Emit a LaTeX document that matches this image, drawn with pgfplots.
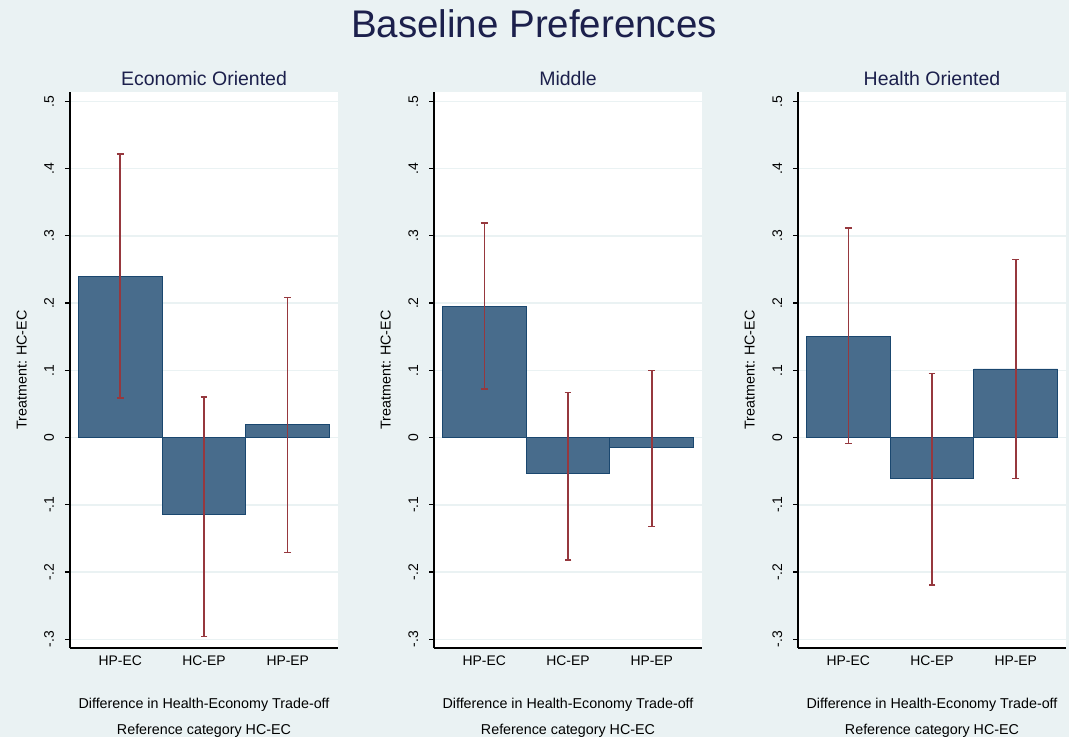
\documentclass[border=0pt]{standalone}
\usepackage{fontspec}
\setmainfont{Liberation Sans}
\usepackage{pgfplots}
\usepackage{pgfplotstable}
\pgfplotsset{compat=1.18}

\definecolor{bgcol}{RGB}{234,242,243}
\definecolor{barfill}{RGB}{72,108,140}
\definecolor{barline}{RGB}{26,71,111}
\definecolor{cicol}{RGB}{150,56,62}
\definecolor{headcol}{RGB}{28,32,76}

% estimate, lower and upper CI bound
\pgfplotstableread{
x y lo hi
1 0.240 0.059 0.422
2 -0.115 -0.296 0.060
3 0.020 -0.171 0.208
}\econtab
\pgfplotstableread{
x y lo hi
1 0.195 0.072 0.319
2 -0.054 -0.182 0.067
3 -0.014 -0.132 0.100
}\middtab
\pgfplotstableread{
x y lo hi
1 0.151 -0.009 0.312
2 -0.060 -0.219 0.095
3 0.102 -0.061 0.265
}\healthtab

\pgfplotsset{
  panel/.style={
    at={(#1pt,89pt)}, anchor=south west,
    scale only axis, width=268pt, height=556pt,
    xmin=0.4, xmax=3.6, ymin=-0.313, ymax=0.514,
    axis background/.style={fill=white},
    axis x line*=bottom, axis y line*=left,
    axis line style={line width=1.6pt, -},
    xtick={1,2,3}, xticklabels={HP-EC,HC-EP,HP-EP},
    xtick style={draw=none},
    ytick={-0.3,-0.2,-0.1,0,0.1,0.2,0.3,0.4,0.5},
    yticklabels={-.3,-.2,-.1,0,.1,.2,.3,.4,.5},
    ymajorgrids, grid style={bgcol, line width=1.5pt},
    tick align=outside, major tick length=5pt,
    ytick style={black, line width=1.2pt},
    ticklabel style={font=\fontsize{13.9}{16}\selectfont},
    xticklabel style={anchor=base, yshift=-12pt},
    yticklabel style={xshift=-11pt, rotate=90, anchor=base},
    ylabel={Treatment: HC-EC},
    ylabel style={at={(axis description cs:-0.18,0.5)}, anchor=center,
      font=\fontsize{14.3}{16}\selectfont},
  },
  est/.style={ybar, bar width=1, fill=barfill, draw=barline, line width=0.8pt, mark=none},
  ci/.style={draw=none, mark=none, forget plot,
    error bars/.cd, y dir=both, y explicit,
    error bar style={draw=cicol, line width=1.5pt},
    error mark=-,
    error mark options={rotate=90, draw=cicol, line width=1.5pt, mark size=3.3pt}},
}

\newcommand{\panelplots}[1]{%
  \addplot[est] table[x=x, y=y] {#1};
  \addplot[ci] table[x=x, y=y,
    y error plus expr=\thisrow{hi}-\thisrow{y},
    y error minus expr=\thisrow{y}-\thisrow{lo}] {#1};
}

\begin{document}
\begin{tikzpicture}[x=1pt, y=1pt]
\useasboundingbox (0,0) rectangle (1069,737);
\fill[bgcol] (0,0) rectangle (1069,737);

\node[anchor=base, text=headcol, font=\fontsize{38.5}{42}\selectfont] at (534,699) {Baseline Preferences};

\begin{axis}[panel=70]
\panelplots{\econtab}
\end{axis}
\begin{axis}[panel=434]
\panelplots{\middtab}
\end{axis}
\begin{axis}[panel=798]
\panelplots{\healthtab}
\end{axis}

\foreach \cx/\ttl in {204/Economic Oriented, 568/Middle, 932/Health Oriented}{
  \node[anchor=base, text=headcol, font=\fontsize{19.5}{22}\selectfont] at (\cx,651.3) {\ttl};
  \node[anchor=base, font=\fontsize{14.3}{16}\selectfont] at (\cx,28.7) {Difference in Health-Economy Trade-off};
  \node[anchor=base, font=\fontsize{14.3}{16}\selectfont] at (\cx,3) {Reference category HC-EC};
}
\end{tikzpicture}
\end{document}
